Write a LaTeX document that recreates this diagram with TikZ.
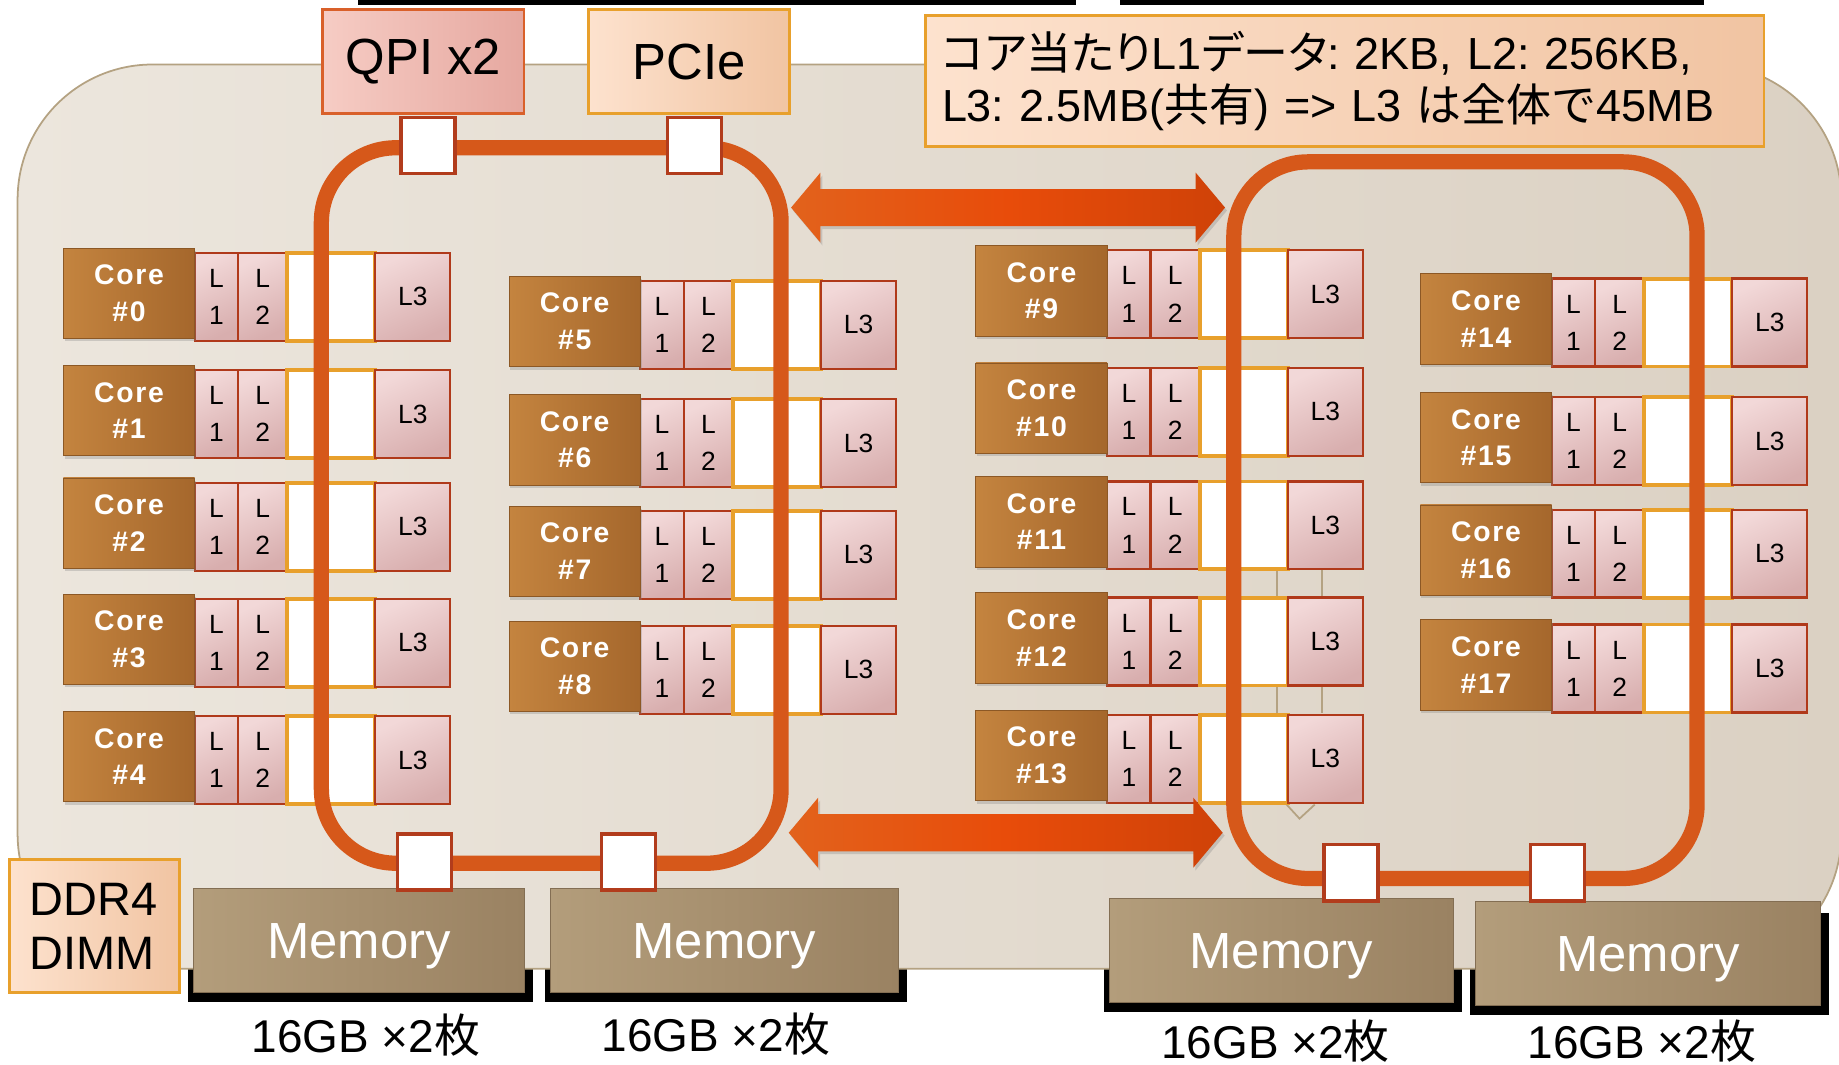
\documentclass[tikz,border=0pt]{standalone}
\usepackage{fontspec}
\setmainfont{Liberation Sans}
\newfontfamily\jpfont{Noto Sans CJK JP}
\newfontfamily\jpprop[RawFeature=+palt]{Noto Sans CJK JP}
\newfontfamily\corefont[LetterSpace=6]{Liberation Sans}
\usepackage{tikz}
\usetikzlibrary{positioning,calc,shapes.arrows,shadows,backgrounds}
\definecolor{bgLeft}{HTML}{ECE6DD}
\definecolor{bgRight}{HTML}{DBD1C3}
\definecolor{bgEdge}{HTML}{B4A282}
\definecolor{ringOrange}{HTML}{D6581A}
\definecolor{stopRed}{HTML}{B23C1C}
\definecolor{coreLight}{HTML}{C4843F}
\definecolor{coreDark}{HTML}{A5672C}
\definecolor{pinkLight}{HTML}{F2D8D8}
\definecolor{pinkDark}{HTML}{D8AEAE}
\definecolor{cacheEdge}{HTML}{B0391A}
\definecolor{amber}{HTML}{E8A02C}
\definecolor{peachLight}{HTML}{FDE2CE}
\definecolor{peachDark}{HTML}{F1C4A2}
\definecolor{salmonLight}{HTML}{F6CCC4}
\definecolor{salmonDark}{HTML}{E6A8A0}
\definecolor{qpiEdge}{HTML}{D9602A}
\definecolor{memLight}{HTML}{B39D7B}
\definecolor{memDark}{HTML}{9A8262}
\definecolor{arrowLight}{HTML}{E2621C}
\definecolor{arrowMid}{HTML}{E84C0A}
\definecolor{arrowDark}{HTML}{CF4208}
\tikzset{
  corebox/.style={minimum width=67.2pt, minimum height=46.2pt, inner sep=0pt, outer sep=0pt, left color=coreLight, right color=coreDark,
    draw=coreDark!85!black, line width=0.4pt, text=white, align=center, font=\corefont\bfseries\fontsize{14.5}{18.6}\selectfont,
    drop shadow={shadow xshift=0.6pt, shadow yshift=-1.6pt, opacity=0.3}},
  cache/.style={minimum height=45pt, inner sep=0pt, outer sep=0pt, draw=cacheEdge, line width=1.1pt, top color=pinkLight, bottom color=pinkDark,
    shading angle=25, align=center, font=\fontsize{13.5}{19}\selectfont},
  lone/.style={cache, minimum width=22.2pt},
  ltwo/.style={cache, minimum width=25.2pt},
  lthree/.style={cache, minimum width=38.4pt},
  slot/.style={minimum width=45pt, minimum height=45pt, inner sep=0pt, outer sep=0pt, draw=amber, line width=2pt, fill=white},
  ring/.style={draw=ringOrange, line width=7.8pt, rounded corners=38pt},
  ringstop/.style={draw=stopRed, line width=1.8pt, fill=white, minimum width=27.6pt, minimum height=28.8pt, inner sep=0pt},
  peach/.style={draw=amber, line width=1.3pt, left color=peachLight, right color=peachDark, inner sep=0pt},
  port/.style={minimum width=103pt, minimum height=53.4pt, font=\fontsize{26}{30}\selectfont},
  membox/.style={minimum height=53pt, inner sep=0pt, text depth=0pt, draw=memDark!85!black, line width=0.5pt, left color=memLight, right color=memDark,
    text=white, font=\fontsize{26}{30}\selectfont},
  memcap/.style={inner sep=0pt, font=\fontsize{23.5}{28}\selectfont},
  link/.style={double arrow, double arrow tip angle=100, double arrow head extend=8.4pt, minimum height=222pt,
    inner xsep=0pt, inner ysep=9.3pt, left color=arrowLight, right color=arrowDark, middle color=arrowMid,
    drop shadow={shadow xshift=1pt, shadow yshift=-1.5pt, opacity=0.3}},
  seam/.style={draw=bgEdge, line width=0.9pt},
}

\begin{document}
\begin{tikzpicture}[x=0.6pt, y=-0.6pt]
  \useasboundingbox (0,0) rectangle (1568,908);
  % remains of the title rule
  \fill[black] (305,0) rectangle (917,4);
  \fill[black] (955,0) rectangle (1453,4);

  \draw[seam] (1089,486) -- (1089,508) (1127,486) -- (1127,508);
  \draw[seam] (1089,586) -- (1089,608) (1127,586) -- (1127,608);
  \draw[seam] (1097,686) -- (1108,698) -- (1121,686);

  % cores with their caches
  \foreach \n/\x/\y in {0/166/253,1/166/353,2/166/449,3/166/548,4/166/648,
      5/546/277,6/546/378,7/546/473,8/546/571,
      9/944/251,10/944/351,11/944/448,12/944/547,13/944/647,
      14/1323/275,15/1323/376,16/1323/472,17/1323/570} {
    \node[lone, anchor=west] (la\n) at (\x,\y) {L\\1};
    \node[ltwo, right=0pt of la\n] (lb\n) {L\\2};
    \node[slot, right=0pt of lb\n] (sl\n) {};
    \node[lthree, right=0pt of sl\n] (lc\n) {L3};
    \node[corebox, left=0pt of la\n, yshift=1.8pt] (core\n) {Core\\\#\n};
  }

  % rings
  \draw[ring] (274,126) rectangle (666,736);
  \draw[ring] (1052,138) rectangle (1447,749);

  \node[link] (link1) at (859.5,177) {};
  \node[link] (link2) at (857.5,710) {};

  \node[peach, port, draw=qpiEdge, left color=salmonLight, right color=salmonDark] (qpi) at (361,52.5) {QPI x2};
  \node[peach, port] (pcie) at (587.5,52.5) {PCIe};
  \node[peach, text width=412pt, inner xsep=8.4pt, minimum height=67.2pt, align=left, font=\fontsize{23}{27}\selectfont\frenchspacing] (note) at (1146.5,69)
    {{\jpprop コア当たり}L1{\jpprop データ}: 2KB, L2: 256KB,\\L3: 2.5MB({\jpfont 共有}) => L3 {\jpfont は全体で}45MB};
  \node[peach, text width=66pt, inner xsep=10.5pt, minimum height=67.8pt, align=left, font=\fontsize{24}{27.6}\selectfont] (ddr) at (80.5,789.5) {DDR4\\DIMM};

  \node[membox, minimum width=169.2pt] (mem1) at (306,802) {Memory};
  \node[membox, minimum width=178.2pt] (mem2) at (617.5,802) {Memory};
  \node[membox, minimum width=175.8pt] (mem3) at (1092.5,810.5) {Memory};
  \node[membox, minimum width=176.4pt] (mem4) at (1405,813) {Memory};

  \node[memcap] (cap1) at ($(mem1.south)+(6,36)$) {16GB ×2{\jpfont 枚}};
  \node[memcap] (cap2) at ($(mem2.south)+(-7,35)$) {16GB ×2{\jpfont 枚}};
  \node[memcap] (cap3) at ($(mem3.south)+(-5,33)$) {16GB ×2{\jpfont 枚}};
  \node[memcap] (cap4) at ($(mem4.south)+(-5,30)$) {16GB ×2{\jpfont 枚}};

  \node[ringstop] (stopQpi) at (365,124) {};
  \node[ringstop] (stopPcie) at (592,124) {};
  \node[ringstop] (stopM1) at (362,735) {};
  \node[ringstop] (stopM2) at (536,735) {};
  \node[ringstop] (stopM3) at (1152,744) {};
  \node[ringstop] (stopM4) at (1328,744) {};

  \begin{scope}[on background layer]
    \foreach \m in {mem1,mem2,mem3,mem4}
      \fill[black] ($(\m.north west)+(-4,10)$) rectangle ($(\m.south east)+(7,8)$);
    \path[draw=bgEdge, line width=0.9pt, left color=bgLeft, right color=bgRight, rounded corners=69pt] (15,55) rectangle (1570,826);
  \end{scope}
\end{tikzpicture}
\end{document}
